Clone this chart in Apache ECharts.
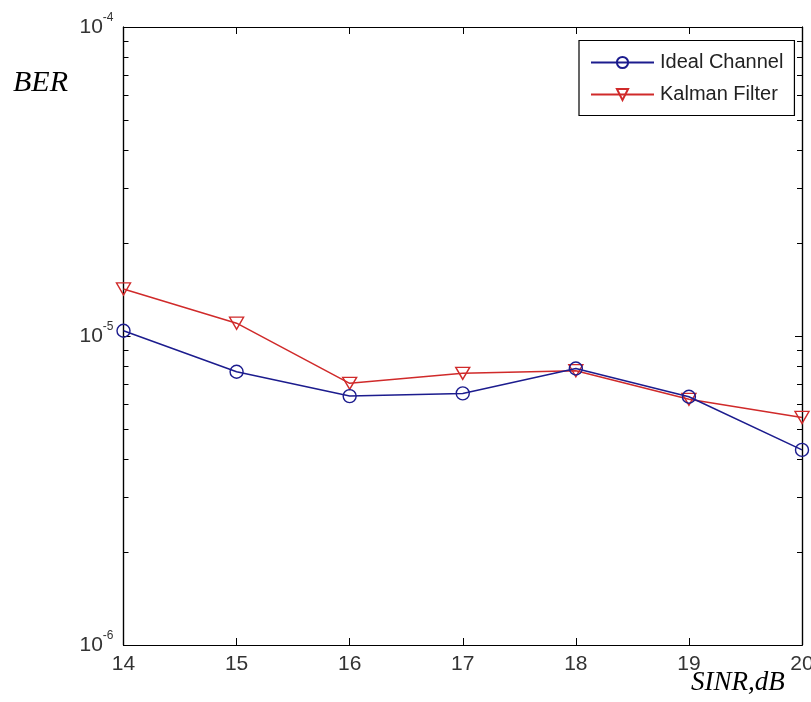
<!DOCTYPE html>
<html>
<head>
<meta charset="utf-8">
<script src="https://cdn.jsdelivr.net/npm/echarts@6/dist/echarts.min.js"></script>
<style>
  html, body { margin: 0; padding: 0; background: #fff; }
  #chart { width: 811px; height: 702px; }
</style>
</head>
<body>
<div id="chart"></div>
<script>
// SINR points (dB) and bit error rates for the two receivers
const sinr = [14, 15, 16, 17, 18, 19, 20];
const idealBer = [1.04e-5, 7.66e-6, 6.39e-6, 6.52e-6, 7.85e-6, 6.36e-6, 4.28e-6];
const kalmanBer = [1.42e-5, 1.10e-5, 7.03e-6, 7.57e-6, 7.72e-6, 6.24e-6, 5.45e-6];
const seriesNames = ['Ideal Channel', 'Kalman Filter'];

// Decade ticks and log minor ticks on the BER axis
const yMajor = [1e-6, 1e-5, 1e-4];
const yMinor = [2e-6, 3e-6, 4e-6, 5e-6, 6e-6, 7e-6, 8e-6, 9e-6,
                2e-5, 3e-5, 4e-5, 5e-5, 6e-5, 7e-5, 8e-5, 9e-5];

const BLUE = '#1c1c8e';
const RED = '#d02a2a';
const TICK_FONT = '"Liberation Sans", Arial, sans-serif';
const SERIF = '"Liberation Serif", "DejaVu Serif", serif';

const chart = echarts.init(document.getElementById('chart'), null, { renderer: 'canvas' });

function logAxis(position, ticks, tickLen, withLabels) {
  return {
    type: 'log',
    logBase: 10,
    min: 1e-6,
    max: 1e-4,
    position: position,
    axisLine: { show: true, onZero: false, lineStyle: { color: '#000', width: 1.2 } },
    axisTick: { show: true, inside: true, length: tickLen, customValues: ticks,
                lineStyle: { color: '#000', width: 1 } },
    splitLine: { show: false },
    minorTick: { show: false },
    axisLabel: withLabels ? {
      show: true,
      customValues: yMajor,
      margin: 10,
      formatter: function (v) {
        const e = Math.round(Math.log10(v));
        return '{b|10}{s|' + e + '}';
      },
      rich: {
        b: { fontFamily: TICK_FONT, fontSize: 21, lineHeight: 21, color: '#333' },
        s: { fontFamily: TICK_FONT, fontSize: 12, lineHeight: 12, color: '#333', padding: [0, 0, 19, 0] }
      }
    } : { show: false }
  };
}

function linAxis(position, withLabels) {
  return {
    type: 'value',
    min: 14,
    max: 20,
    interval: 1,
    position: position,
    axisLine: { show: true, onZero: false, lineStyle: { color: '#000', width: 1.2 } },
    axisTick: { show: true, inside: true, length: 7, lineStyle: { color: '#000', width: 1 } },
    splitLine: { show: false },
    axisLabel: withLabels ? {
      show: true, margin: 9, color: '#333',
      fontFamily: TICK_FONT, fontSize: 21
    } : { show: false }
  };
}

const option = {
  backgroundColor: '#fff',
  animation: false,
  grid: {
    left: 123.5, right: 9, top: 27, bottom: 57,
    containLabel: false,
    outerBoundsMode: 'none'
  },
  xAxis: [linAxis('bottom', true), linAxis('top', false)],
  yAxis: [
    logAxis('left', yMajor, 7, true),
    logAxis('left', yMinor, 5, false),
    logAxis('right', yMajor, 7, false),
    logAxis('right', yMinor, 5, false)
  ],
  legend: {
    left: 579,
    top: 40.5,
    orient: 'vertical',
    selectedMode: false,
    backgroundColor: '#fff',
    borderColor: '#000',
    borderWidth: 1.2,
    borderRadius: 0,
    padding: [11, 11, 10, 11],
    itemWidth: 63,
    itemHeight: 14,
    itemGap: 10,
    textStyle: { fontFamily: TICK_FONT, fontSize: 20, lineHeight: 22, color: '#222', padding: [0, 0, 0, 1] },
    data: seriesNames
  },
  graphic: [
    {
      type: 'text', left: 13, top: 68,
      style: { text: 'BER', font: 'italic 30px ' + SERIF, fill: '#000' }
    },
    {
      type: 'text', left: 691, top: 669,
      style: { text: 'SINR,dB', font: 'italic 27px ' + SERIF, fill: '#000' }
    }
  ],
  series: [
    {
      name: seriesNames[0],
      type: 'line',
      xAxisIndex: 0, yAxisIndex: 0,
      data: sinr.map((x, i) => [x, idealBer[i]]),
      color: BLUE,
      symbol: 'circle',
      symbolSize: 13,
      lineStyle: { color: BLUE, width: 1.5 },
      itemStyle: { color: 'transparent', borderColor: BLUE, borderWidth: 1.4 },
      z: 3
    },
    {
      name: seriesNames[1],
      type: 'line',
      xAxisIndex: 0, yAxisIndex: 0,
      data: sinr.map((x, i) => [x, kalmanBer[i]]),
      color: RED,
      symbol: 'triangle',
      symbolRotate: 180,
      symbolSize: [14, 12],
      lineStyle: { color: RED, width: 1.5 },
      itemStyle: { color: 'transparent', borderColor: RED, borderWidth: 1.4 },
      z: 2
    }
  ]
};

chart.setOption(option);
</script>
</body>
</html>
